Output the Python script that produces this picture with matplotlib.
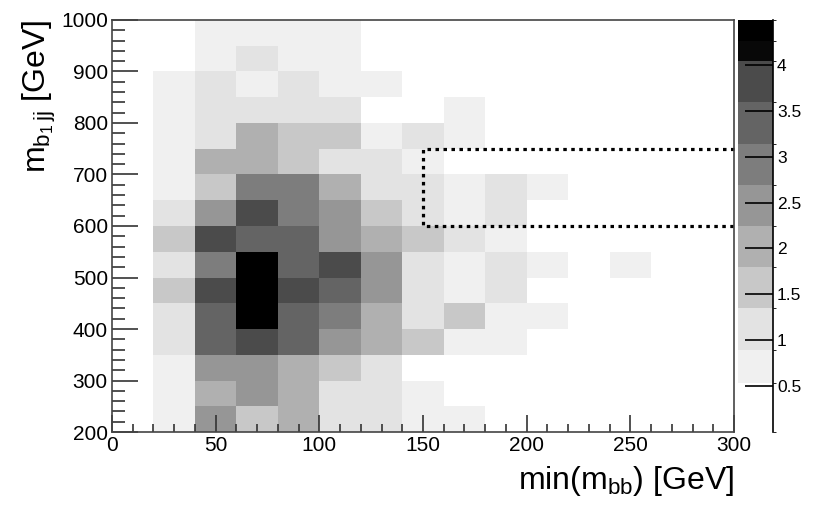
"""
Histograma 2D estilo ROOT: m_{b1 jj} vs min(m_bb)
"""

import matplotlib
matplotlib.use('Agg')
import matplotlib.pyplot as plt
import numpy as np
from matplotlib.colors import ListedColormap, BoundaryNorm
from matplotlib.ticker import MultipleLocator

plt.rcParams['font.family'] = ['Liberation Sans', 'DejaVu Sans']
plt.rcParams['mathtext.fontset'] = 'custom'
plt.rcParams['mathtext.rm'] = 'Liberation Sans'
plt.rcParams['mathtext.it'] = 'Liberation Sans'

# bins
x_edges = np.arange(0, 301, 20)
y_edges = np.arange(200, 1001, 50)

# conteudo das celulas (linhas de baixo para cima, y = 200..1000)
contagens = [
    [0, .7, 2.45, 1.55, 2.0, 1.1, 1.1, .7, .7, 0, 0, 0, 0, 0, 0],
    [0, .7, 2.0, 2.45, 2.0, 1.1, 1.1, .7, 0, 0, 0, 0, 0, 0, 0],
    [0, .7, 2.45, 2.45, 2.0, 1.55, 1.1, 0, 0, 0, 0, 0, 0, 0, 0],
    [0, 1.1, 3.35, 3.8, 3.35, 2.45, 2.0, 1.55, .7, .7, 0, 0, 0, 0, 0],
    [0, 1.1, 3.35, 4.4, 3.35, 2.9, 2.0, 1.1, 1.55, .7, .7, 0, 0, 0, 0],
    [0, 1.55, 3.8, 4.4, 3.8, 3.35, 2.45, 1.1, .7, 1.1, 0, 0, 0, 0, 0],
    [0, 1.1, 2.9, 4.4, 3.35, 3.8, 2.45, 1.1, .7, 1.1, .7, 0, .7, 0, 0],
    [0, 1.55, 3.8, 3.35, 3.35, 2.45, 2.0, 1.55, 1.1, .7, 0, 0, 0, 0, 0],
    [0, 1.1, 2.45, 3.8, 2.9, 2.45, 1.55, 1.1, .7, 1.1, 0, 0, 0, 0, 0],
    [0, .7, 1.55, 2.9, 2.9, 2.0, 1.1, 1.1, .7, 1.1, .7, 0, 0, 0, 0],
    [0, .7, 2.0, 2.0, 1.55, 1.1, 1.1, .7, 0, 0, 0, 0, 0, 0, 0],
    [0, .7, 1.1, 2.0, 1.55, 1.55, .7, 1.1, .7, 0, 0, 0, 0, 0, 0],
    [0, .7, 1.1, 1.1, 1.1, 1.1, 0, 0, .7, 0, 0, 0, 0, 0, 0],
    [0, .7, 1.1, .7, 1.1, .7, .7, 0, 0, 0, 0, 0, 0, 0, 0],
    [0, 0, .7, 1.1, .7, .7, 0, 0, 0, 0, 0, 0, 0, 0, 0],
    [0, 0, .7, .7, .7, .7, 0, 0, 0, 0, 0, 0, 0, 0, 0],
]

# regiao de sinal (caixa pontilhada)
caixa_x = [300, 150, 150, 300]
caixa_y = [750, 750, 600, 600]

# paleta cinza discreta
niveis = [0, 0.536, 0.898, 1.347, 1.796, 2.245, 2.694, 3.143, 3.592, 4.041, 4.265, 4.49]
cores = ['#ffffff', '#f0f0f0', '#e3e3e3', '#c8c8c8', '#b0b0b0', '#969696',
         '#7d7d7d', '#646464', '#4b4b4b', '#080808', '#000000']
cmap = ListedColormap(cores)
norm = BoundaryNorm(niveis, cmap.N)

z = np.ma.masked_equal(np.array(contagens), 0)

fig = plt.figure(figsize=(8.3, 5.19), dpi=100)
ax = fig.add_axes([0.1349, 0.1676, 0.7494, 0.7939])
cax = fig.add_axes([0.889, 0.1676, 0.042, 0.7939])

mesh = ax.pcolormesh(x_edges, y_edges, z, cmap=cmap, norm=norm)
ax.plot(caixa_x, caixa_y, color='black', lw=2.3, linestyle=(0, (1.1, 1.4)),
        clip_on=False)

ax.set_xlim(0, 300)
ax.set_ylim(200, 1000)
ax.xaxis.set_major_locator(MultipleLocator(50))
ax.xaxis.set_minor_locator(MultipleLocator(10))
ax.yaxis.set_major_locator(MultipleLocator(100))
ax.yaxis.set_minor_locator(MultipleLocator(20))
ax.tick_params(which='both', direction='in', top=False, right=False,
               labelsize=15, width=1.2, color='#333333')
ax.tick_params(axis='x', which='major', length=12, pad=3)
ax.tick_params(axis='x', which='minor', length=6)
ax.tick_params(axis='y', which='major', length=19, pad=3)
ax.tick_params(axis='y', which='minor', length=9)
for s in ax.spines.values():
    s.set_color('#444444')
    s.set_linewidth(1.2)

ax.set_xlabel(r'min($\mathregular{m_{bb}}$) [GeV]', fontsize=23, loc='right',
              labelpad=6)
ax.set_ylabel(r'$\mathregular{m_{b_{1}\,jj}}$ [GeV]', fontsize=23, loc='top',
              labelpad=2)

cb = fig.colorbar(mesh, cax=cax, spacing='proportional')
cb.outline.set_visible(False)
cb.set_ticks([0.5, 1, 1.5, 2, 2.5, 3, 3.5, 4])
cb.set_ticklabels(['0.5', '1', '1.5', '2', '2.5', '3', '3.5', '4'])
cax.tick_params(direction='in', length=20, width=1.2, labelsize=12.5, pad=3)
cax.axvline(1, color='black', lw=1.2, clip_on=False)

fig.savefig('out.png', dpi=100)
plt.close()
